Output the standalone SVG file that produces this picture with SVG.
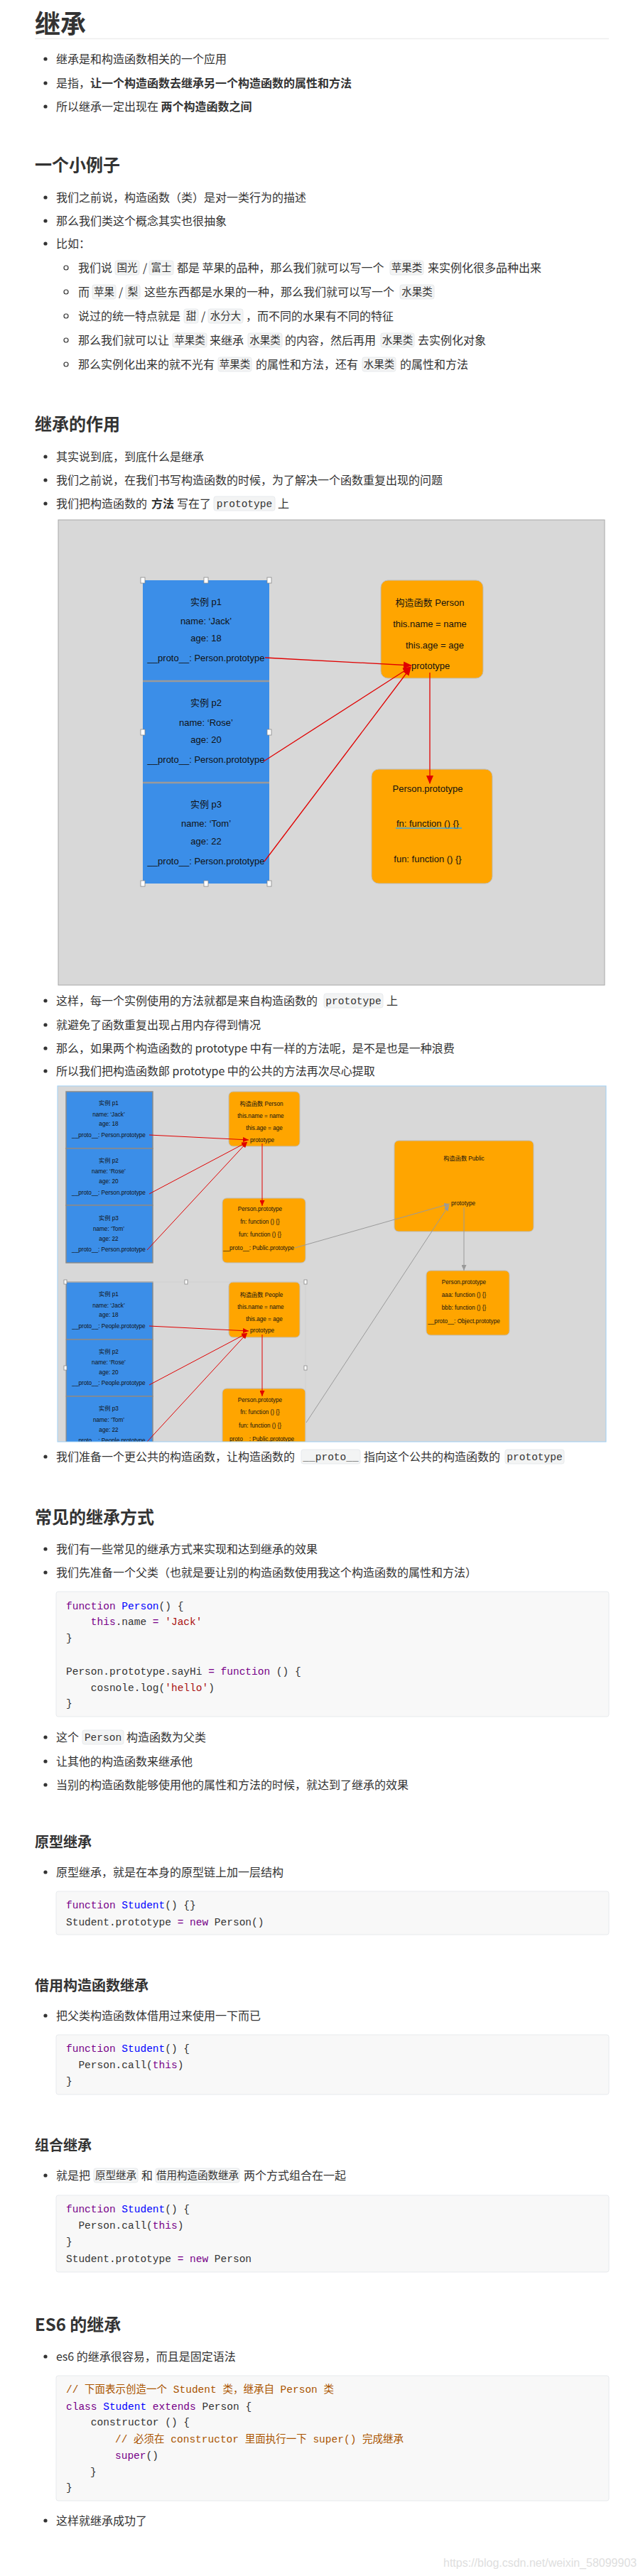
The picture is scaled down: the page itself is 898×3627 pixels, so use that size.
<svg xmlns="http://www.w3.org/2000/svg" width="898" height="3627" viewBox="0 0 898 3627">
<style>
.t{font-family:"Noto Sans CJK SC","Liberation Sans",sans-serif;font-size:16px;fill:#333}
.b{font-weight:700}
.h1{font-family:"Noto Sans CJK SC",sans-serif;font-size:36px;font-weight:700;fill:#333}
.h2{font-family:"Noto Sans CJK SC",sans-serif;font-size:24px;font-weight:700;fill:#333}
.h3{font-family:"Noto Sans CJK SC",sans-serif;font-size:20px;font-weight:700;fill:#333}
.code{font-family:"Liberation Mono","Noto Sans CJK SC",monospace;font-size:14.5px;fill:#333}
.ct{font-family:"Liberation Mono","Noto Sans CJK SC",monospace;font-size:14.5px;fill:#333;text-anchor:middle}
.kw{fill:#770088}.def{fill:#0000ff}.str{fill:#aa1111}.cm{fill:#aa5500}.op{fill:#770088}
.chip{fill:#f3f4f4;stroke:#e7eaed;stroke-width:1}
.cb{fill:#f8f8f8;stroke:#e7eaed;stroke-width:1}
.dot{fill:#333}
.ring{fill:none;stroke:#333;stroke-width:1.2}
.d1{font-family:"Liberation Sans","Noto Sans CJK SC",sans-serif;font-size:13px;fill:#111;text-anchor:middle}
.d2{font-family:"Liberation Sans","Noto Sans CJK SC",sans-serif;font-size:8.2px;fill:#111;text-anchor:middle}
.st{text-anchor:start}
.blue{fill:#3b8ee8}
.blue2{fill:#3b8ee8;stroke:#8a8a8a;stroke-width:1.5}
.org{fill:#ffa500;stroke:#bdbdbd;stroke-width:1}
.sep{stroke:#9a9a9a;stroke-width:2.5}
.red{stroke:#e00000;stroke-width:1.3;fill:none}
.red2{stroke:#e00000;stroke-width:1;fill:none}
.gry{stroke:#9a9a9a;stroke-width:1;fill:none}
.hd{fill:#fff;stroke:#888;stroke-width:0.8}
</style>
<defs>
<marker id="ar" markerUnits="userSpaceOnUse" markerWidth="12" markerHeight="10" refX="11" refY="5" orient="auto"><path d="M0,0 L12,5 L0,10 z" fill="#e00000"/></marker>
<marker id="ar2" markerUnits="userSpaceOnUse" markerWidth="8" markerHeight="7" refX="8" refY="3.5" orient="auto"><path d="M0,0 L8,3.5 L0,7 z" fill="#e00000"/></marker>
<marker id="ag" markerUnits="userSpaceOnUse" markerWidth="8" markerHeight="7" refX="8" refY="3.5" orient="auto"><path d="M0,0 L8,3.5 L0,7 z" fill="#9a9a9a"/></marker>
<clipPath id="c2"><rect x="81" y="1529" width="772" height="501"/></clipPath>
</defs>
<rect x="0" y="0" width="898" height="3627" fill="#fff"/>

<g id="intro">
<text class="h1" x="49" y="47">继承</text>
<line x1="49" y1="54.5" x2="857" y2="54.5" stroke="#eee" stroke-width="1.5"/>
<circle class="dot" cx="64" cy="83" r="2.6"/><text class="t" x="79" y="89">继承是和构造函数相关的一个应用</text>
<circle class="dot" cx="64" cy="117" r="2.6"/><text class="t" x="79" y="123">是指，<tspan class="b">让一个构造函数去继承另一个构造函数的属性和方法</tspan></text>
<circle class="dot" cx="64" cy="150" r="2.6"/><text class="t" x="79" y="156">所以继承一定出现在 <tspan class="b">两个构造函数之间</tspan></text>
</g>

<g id="example">
<text class="h2" x="49" y="241">一个小例子</text>
<circle class="dot" cx="64" cy="278" r="2.6"/><text class="t" x="79" y="284">我们之前说，构造函数（类）是对一类行为的描述</text>
<circle class="dot" cx="64" cy="311" r="2.6"/><text class="t" x="79" y="317">那么我们类这个概念其实也很抽象</text>
<circle class="dot" cx="64" cy="343" r="2.6"/><text class="t" x="79" y="349">比如：</text>

<circle class="ring" cx="93" cy="377" r="3"/>
<rect class="chip" x="162" y="367" width="34" height="20" rx="3"/>
<rect class="chip" x="210" y="367" width="34" height="20" rx="3"/>
<rect class="chip" x="549" y="367" width="47" height="20" rx="3"/>
<text class="t" y="383"><tspan x="110">我们说</tspan><tspan x="201">/</tspan><tspan x="249">都是 苹果的品种，那么我们就可以写一个</tspan><tspan x="602">来实例化很多品种出来</tspan></text>
<text class="ct" y="382"><tspan x="179">国光</tspan><tspan x="227">富士</tspan><tspan x="572.5">苹果类</tspan></text>

<circle class="ring" cx="93" cy="411" r="3"/>
<rect class="chip" x="130" y="401" width="33" height="20" rx="3"/>
<rect class="chip" x="177" y="401" width="20" height="20" rx="3"/>
<rect class="chip" x="563" y="401" width="48" height="20" rx="3"/>
<text class="t" y="417"><tspan x="110">而</tspan><tspan x="167">/</tspan><tspan x="203">这些东西都是水果的一种，那么我们就可以写一个</tspan></text>
<text class="ct" y="416"><tspan x="146.5">苹果</tspan><tspan x="187">梨</tspan><tspan x="587">水果类</tspan></text>

<circle class="ring" cx="93" cy="445" r="3"/>
<rect class="chip" x="259" y="435" width="20" height="20" rx="3"/>
<rect class="chip" x="293" y="435" width="49" height="20" rx="3"/>
<text class="t" y="451"><tspan x="110">说过的统一特点就是</tspan><tspan x="283">/</tspan><tspan x="346">，而不同的水果有不同的特征</tspan></text>
<text class="ct" y="450"><tspan x="269">甜</tspan><tspan x="317.5">水分大</tspan></text>

<circle class="ring" cx="93" cy="479" r="3"/>
<rect class="chip" x="243" y="469" width="48" height="20" rx="3"/>
<rect class="chip" x="349" y="469" width="48" height="20" rx="3"/>
<rect class="chip" x="536" y="469" width="47" height="20" rx="3"/>
<text class="t" y="485"><tspan x="110">那么我们就可以让</tspan><tspan x="295">来继承</tspan><tspan x="401">的内容，然后再用</tspan><tspan x="588">去实例化对象</tspan></text>
<text class="ct" y="484"><tspan x="267">苹果类</tspan><tspan x="373">水果类</tspan><tspan x="559.5">水果类</tspan></text>

<circle class="ring" cx="93" cy="513" r="3"/>
<rect class="chip" x="307" y="503" width="47" height="20" rx="3"/>
<rect class="chip" x="510" y="503" width="47" height="20" rx="3"/>
<text class="t" y="519"><tspan x="110">那么实例化出来的就不光有</tspan><tspan x="360">的属性和方法，还有</tspan><tspan x="563">的属性和方法</tspan></text>
<text class="ct" y="518"><tspan x="330.5">苹果类</tspan><tspan x="533.5">水果类</tspan></text>
</g>

<g id="role">
<text class="h2" x="49" y="606">继承的作用</text>
<circle class="dot" cx="64" cy="643" r="2.6"/><text class="t" x="79" y="649">其实说到底，到底什么是继承</text>
<circle class="dot" cx="64" cy="676" r="2.6"/><text class="t" x="79" y="682">我们之前说，在我们书写构造函数的时候，为了解决一个函数重复出现的问题</text>
<circle class="dot" cx="64" cy="709" r="2.6"/>
<rect class="chip" x="301" y="699" width="86" height="20" rx="3"/>
<text class="t" y="715"><tspan x="79">我们把构造函数的</tspan><tspan x="213" class="b">方法</tspan><tspan x="249">写在了</tspan><tspan x="391">上</tspan></text>
<text class="ct" x="344" y="714">prototype</text>
</g>

<g id="diagram1">
<rect x="82" y="732" width="769" height="655" fill="#d8d8d8" stroke="#a8a8a8" stroke-width="1"/>
<g id="d1-p1"><rect class="blue" x="201" y="817" width="178" height="142"/>
<text class="d1" x="290" y="851.5">实例 p1</text><text class="d1" x="290" y="878.5">name: ‘Jack’</text><text class="d1" x="290" y="902.5">age: 18</text><text class="d1" x="290" y="930.5">__proto__: Person.prototype</text></g>
<g id="d1-p2"><rect class="blue" x="201" y="959" width="178" height="143"/>
<text class="d1" x="290" y="993.5">实例 p2</text><text class="d1" x="290" y="1021.5">name: ‘Rose’</text><text class="d1" x="290" y="1045.5">age: 20</text><text class="d1" x="290" y="1073.5">__proto__: Person.prototype</text></g>
<g id="d1-p3"><rect class="blue" x="201" y="1102" width="178" height="142"/>
<text class="d1" x="290" y="1136.5">实例 p3</text><text class="d1" x="290" y="1163.5">name: ‘Tom’</text><text class="d1" x="290" y="1188.5">age: 22</text><text class="d1" x="290" y="1216.5">__proto__: Person.prototype</text></g>
<line class="sep" x1="201" y1="959" x2="379" y2="959"/>
<line class="sep" x1="201" y1="1102" x2="379" y2="1102"/>
<g id="d1-handles">
<rect class="hd" x="198" y="813" width="6" height="8"/><rect class="hd" x="287" y="813" width="6" height="8"/><rect class="hd" x="376" y="813" width="6" height="8"/>
<rect class="hd" x="198" y="1027" width="6" height="8"/><rect class="hd" x="376" y="1027" width="6" height="8"/>
<rect class="hd" x="198" y="1240" width="6" height="8"/><rect class="hd" x="287" y="1240" width="6" height="8"/><rect class="hd" x="376" y="1240" width="6" height="8"/>
</g>
<g id="d1-person"><rect class="org" x="536" y="817" width="144" height="138" rx="10"/>
<text class="d1" x="605" y="852.5">构造函数 Person</text><text class="d1" x="605" y="882.5">this.name = name</text><text class="d1" x="612" y="912.5">this.age = age</text><text class="d1 st" x="579" y="941.5">prototype</text></g>
<g id="d1-proto"><rect class="org" x="523" y="1083" width="170" height="161" rx="10"/>
<text class="d1" x="602" y="1114.5">Person.prototype</text><text class="d1" x="602" y="1163.5">fn: function () {}</text>
<line x1="557" y1="1166" x2="650" y2="1166" stroke="#3aa3e3" stroke-width="1.5"/>
<text class="d1" x="602" y="1213.5">fun: function () {}</text></g>
<g id="d1-connectors">
<line class="red" x1="373" y1="926" x2="579" y2="937" marker-end="url(#ar)"/>
<line class="red" x1="371" y1="1072" x2="578" y2="939" marker-end="url(#ar)"/>
<line class="red" x1="372" y1="1213" x2="578" y2="940" marker-end="url(#ar)"/>
<line class="red" x1="605" y1="947" x2="605" y2="1103" marker-end="url(#ar)"/>
</g>
</g>

<g id="after1">
<circle class="dot" cx="64" cy="1409" r="2.6"/>
<rect class="chip" x="456" y="1399" width="83" height="20" rx="3"/>
<text class="t" y="1415"><tspan x="79">这样，每一个实例使用的方法就都是来自构造函数的</tspan><tspan x="544">上</tspan></text>
<text class="ct" x="497.5" y="1414">prototype</text>
<circle class="dot" cx="64" cy="1443" r="2.6"/><text class="t" x="79" y="1449">就避免了函数重复出现占用内存得到情况</text>
<circle class="dot" cx="64" cy="1476" r="2.6"/><text class="t" x="79" y="1482">那么，如果两个构造函数的 prototype 中有一样的方法呢，是不是也是一种浪费</text>
<circle class="dot" cx="64" cy="1508" r="2.6"/><text class="t" x="79" y="1514">所以我们把构造函数郞 prototype 中的公共的方法再次尽心提取</text>
</g>

<g id="diagram2">
<rect x="81" y="1529" width="772" height="501" fill="#d8d8d8"/>
<g clip-path="url(#c2)">
<g id="d2-p1"><rect class="blue2" x="93" y="1537" width="122" height="80"/>
<text class="d2" x="153" y="1556">实例 p1</text><text class="d2" x="153" y="1572">name: ‘Jack’</text><text class="d2" x="153" y="1585">age: 18</text><text class="d2" x="153" y="1601">__proto__: Person.prototype</text></g>
<g id="d2-p2"><rect class="blue2" x="93" y="1617" width="122" height="80"/>
<text class="d2" x="153" y="1637">实例 p2</text><text class="d2" x="153" y="1652">name: ‘Rose’</text><text class="d2" x="153" y="1666">age: 20</text><text class="d2" x="153" y="1682">__proto__: Person.prototype</text></g>
<g id="d2-p3"><rect class="blue2" x="93" y="1697" width="122" height="81"/>
<text class="d2" x="153" y="1718">实例 p3</text><text class="d2" x="153" y="1733">name: ‘Tom’</text><text class="d2" x="153" y="1747">age: 22</text><text class="d2" x="153" y="1762">__proto__: Person.prototype</text></g>
<g id="d2-person"><rect class="org" x="322" y="1537" width="100" height="77" rx="6"/>
<text class="d2" x="368" y="1557">构造函数 Person</text><text class="d2" x="367" y="1574">this.name = name</text><text class="d2" x="372" y="1591">this.age = age</text><text class="d2 st" x="352" y="1608">prototype</text></g>
<g id="d2-person-proto"><rect class="org" x="313" y="1687" width="117" height="91" rx="6"/>
<text class="d2" x="366" y="1705">Person.prototype</text><text class="d2" x="366" y="1723">fn: function () {}</text><text class="d2" x="366" y="1741">fun: function () {}</text><text class="d2" x="364" y="1760">__proto__: Public.prototype</text></g>
<g id="d2-public"><rect class="org" x="555" y="1606" width="196" height="128" rx="6"/>
<text class="d2" x="653" y="1634">构造函数 Public</text><text class="d2 st" x="635" y="1697">prototype</text></g>
<g id="d2-public-proto"><rect class="org" x="600" y="1789" width="117" height="91" rx="6"/>
<text class="d2" x="653" y="1808">Person.prototype</text><text class="d2" x="653" y="1826">aaa: function () {}</text><text class="d2" x="653" y="1844">bbb: function () {}</text><text class="d2" x="653" y="1863">__proto__: Object.prototype</text></g>

<g id="d2-q1"><rect class="blue2" x="93" y="1805" width="122" height="81"/>
<text class="d2" x="153" y="1825">实例 p1</text><text class="d2" x="153" y="1841">name: ‘Jack’</text><text class="d2" x="153" y="1854">age: 18</text><text class="d2" x="153" y="1870">__proto__: People.prototype</text></g>
<g id="d2-q2"><rect class="blue2" x="93" y="1886" width="122" height="80"/>
<text class="d2" x="153" y="1906">实例 p2</text><text class="d2" x="153" y="1921">name: ‘Rose’</text><text class="d2" x="153" y="1935">age: 20</text><text class="d2" x="153" y="1950">__proto__: People.prototype</text></g>
<g id="d2-q3"><rect class="blue2" x="93" y="1966" width="122" height="81"/>
<text class="d2" x="153" y="1986">实例 p3</text><text class="d2" x="153" y="2002">name: ‘Tom’</text><text class="d2" x="153" y="2016">age: 22</text><text class="d2" x="153" y="2031">__proto__: People.prototype</text></g>
<g id="d2-people"><rect class="org" x="322" y="1805" width="100" height="78" rx="6"/>
<text class="d2" x="368" y="1826">构造函数 People</text><text class="d2" x="367" y="1843">this.name = name</text><text class="d2" x="372" y="1860">this.age = age</text><text class="d2 st" x="352" y="1876">prototype</text></g>
<g id="d2-people-proto"><rect class="org" x="313" y="1955" width="117" height="91" rx="6"/>
<text class="d2" x="366" y="1974">Person.prototype</text><text class="d2" x="366" y="1991">fn: function () {}</text><text class="d2" x="366" y="2010">fun: function () {}</text><text class="d2" x="364" y="2029">__proto__: Public.prototype</text></g>
<rect x="92" y="1805" width="338" height="240" fill="none" stroke="#cfcfcf" stroke-width="0.8"/>
<g id="d2-handles">
<rect class="hd" x="90" y="1802" width="4" height="6"/><rect class="hd" x="260" y="1802" width="4" height="6"/><rect class="hd" x="428" y="1802" width="4" height="6"/>
<rect class="hd" x="90" y="1923" width="4" height="6"/><rect class="hd" x="428" y="1923" width="4" height="6"/>
</g>
<g id="d2-connectors">
<line class="red2" x1="210" y1="1598" x2="350" y2="1605" marker-end="url(#ar2)"/>
<line class="red2" x1="210" y1="1681" x2="348" y2="1608" marker-end="url(#ar2)"/>
<line class="red2" x1="207" y1="1760" x2="348" y2="1608" marker-end="url(#ar2)"/>
<line class="red2" x1="369" y1="1610" x2="369" y2="1698" marker-end="url(#ar2)"/>
<line class="gry" x1="415" y1="1757" x2="633" y2="1695" marker-end="url(#ag)"/>
<line class="gry" x1="653" y1="1700" x2="653" y2="1789" marker-end="url(#ag)"/>
<line class="gry" x1="431" y1="2003" x2="632" y2="1697" marker-end="url(#ag)"/>
<line class="red2" x1="210" y1="1867" x2="350" y2="1874" marker-end="url(#ar2)"/>
<line class="red2" x1="210" y1="1950" x2="348" y2="1877" marker-end="url(#ar2)"/>
<line class="red2" x1="207" y1="2030" x2="348" y2="1877" marker-end="url(#ar2)"/>
<line class="red2" x1="369" y1="1879" x2="369" y2="1966" marker-end="url(#ar2)"/>
</g>
</g>
<rect x="81" y="1529" width="772" height="501" fill="none" stroke="#9fd0f5" stroke-width="1"/>
</g>

<g id="after2">
<circle class="dot" cx="64" cy="2051" r="2.6"/>
<rect class="chip" x="424" y="2041" width="83" height="20" rx="3"/>
<rect class="chip" x="711" y="2041" width="83" height="20" rx="3"/>
<text class="t" y="2057"><tspan x="79">我们准备一个更公共的构造函数，让构造函数的</tspan><tspan x="512">指向这个公共的构造函数的</tspan></text>
<text class="ct" y="2056"><tspan x="465.5">__proto__</tspan><tspan x="752.5">prototype</tspan></text>
</g>

<g id="common">
<text class="h2" x="49" y="2145">常见的继承方式</text>
<circle class="dot" cx="64" cy="2181" r="2.6"/><text class="t" x="79" y="2187">我们有一些常见的继承方式来实现和达到继承的效果</text>
<circle class="dot" cx="64" cy="2214" r="2.6"/><text class="t" x="79" y="2220">我们先准备一个父类（也就是要让别的构造函数使用我这个构造函数的属性和方法）</text>
<rect class="cb" x="79" y="2241" width="778" height="176" rx="3"/>
<text class="code" x="93" y="2266" xml:space="preserve"><tspan class="kw">function</tspan> <tspan class="def">Person</tspan>() {</text>
<text class="code" x="93" y="2288" xml:space="preserve">    <tspan class="kw">this</tspan>.name <tspan class="op">=</tspan> <tspan class="str">'Jack'</tspan></text>
<text class="code" x="93" y="2311">}</text>
<text class="code" x="93" y="2358" xml:space="preserve">Person.prototype.sayHi <tspan class="op">=</tspan> <tspan class="kw">function</tspan> () {</text>
<text class="code" x="93" y="2381" xml:space="preserve">    cosnole.log(<tspan class="str">'hello'</tspan>)</text>
<text class="code" x="93" y="2403">}</text>
<circle class="dot" cx="64" cy="2446" r="2.6"/>
<rect class="chip" x="116" y="2436" width="58" height="20" rx="3"/>
<text class="t" y="2452"><tspan x="79">这个</tspan><tspan x="178">构造函数为父类</tspan></text>
<text class="ct" x="145" y="2451">Person</text>
<circle class="dot" cx="64" cy="2480" r="2.6"/><text class="t" x="79" y="2486">让其他的构造函数来继承他</text>
<circle class="dot" cx="64" cy="2513" r="2.6"/><text class="t" x="79" y="2519">当别的构造函数能够使用他的属性和方法的时候，就达到了继承的效果</text>
</g>

<g id="proto-inherit">
<text class="h3" x="49" y="2601">原型继承</text>
<circle class="dot" cx="64" cy="2636" r="2.6"/><text class="t" x="79" y="2642">原型继承，就是在本身的原型链上加一层结构</text>
<rect class="cb" x="79" y="2663" width="778" height="61" rx="3"/>
<text class="code" x="93" y="2687" xml:space="preserve"><tspan class="kw">function</tspan> <tspan class="def">Student</tspan>() {}</text>
<text class="code" x="93" y="2711" xml:space="preserve">Student.prototype <tspan class="op">=</tspan> <tspan class="kw">new</tspan> Person()</text>
</g>

<g id="borrow-inherit">
<text class="h3" x="49" y="2803">借用构造函数继承</text>
<circle class="dot" cx="64" cy="2838" r="2.6"/><text class="t" x="79" y="2844">把父类构造函数体借用过来使用一下而已</text>
<rect class="cb" x="79" y="2865" width="778" height="84" rx="3"/>
<text class="code" x="93" y="2889" xml:space="preserve"><tspan class="kw">function</tspan> <tspan class="def">Student</tspan>() {</text>
<text class="code" x="93" y="2912" xml:space="preserve">  Person.call(<tspan class="kw">this</tspan>)</text>
<text class="code" x="93" y="2935">}</text>
</g>

<g id="combo-inherit">
<text class="h3" x="49" y="3028">组合继承</text>
<circle class="dot" cx="64" cy="3063" r="2.6"/>
<rect class="chip" x="132" y="3053" width="62" height="20" rx="3"/>
<rect class="chip" x="219" y="3053" width="118" height="20" rx="3"/>
<text class="t" y="3069"><tspan x="79">就是把</tspan><tspan x="199">和</tspan><tspan x="343">两个方式组合在一起</tspan></text>
<text class="ct" y="3068"><tspan x="163">原型继承</tspan><tspan x="278">借用构造函数继承</tspan></text>
<rect class="cb" x="79" y="3091" width="778" height="108" rx="3"/>
<text class="code" x="93" y="3115" xml:space="preserve"><tspan class="kw">function</tspan> <tspan class="def">Student</tspan>() {</text>
<text class="code" x="93" y="3138" xml:space="preserve">  Person.call(<tspan class="kw">this</tspan>)</text>
<text class="code" x="93" y="3161">}</text>
<text class="code" x="93" y="3185" xml:space="preserve">Student.prototype <tspan class="op">=</tspan> <tspan class="kw">new</tspan> Person</text>
</g>

<g id="es6-inherit">
<text class="h2" x="49" y="3282">ES6 的继承</text>
<circle class="dot" cx="64" cy="3318" r="2.6"/><text class="t" x="79" y="3324">es6 的继承很容易，而且是固定语法</text>
<rect class="cb" x="79" y="3345" width="778" height="176" rx="3"/>
<text class="code cm" x="93" y="3369">// 下面表示创造一个 Student 类，继承自 Person 类</text>
<text class="code" x="93" y="3393" xml:space="preserve"><tspan class="kw">class</tspan> <tspan class="def">Student</tspan> <tspan class="kw">extends</tspan> Person {</text>
<text class="code" x="93" y="3415" xml:space="preserve">    constructor () {</text>
<text class="code cm" x="162" y="3439">// 必须在 constructor 里面执行一下 super() 完成继承</text>
<text class="code" x="162" y="3462"><tspan class="kw">super</tspan>()</text>
<text class="code" x="127" y="3485">}</text>
<text class="code" x="93" y="3507">}</text>
<circle class="dot" cx="64" cy="3549" r="2.6"/><text class="t" x="79" y="3555">这样就继承成功了</text>
</g>

<text x="624" y="3614" font-family="Liberation Sans, sans-serif" font-size="16" fill="#dedede">https://blog.csdn.net/weixin_58099903</text>
</svg>
